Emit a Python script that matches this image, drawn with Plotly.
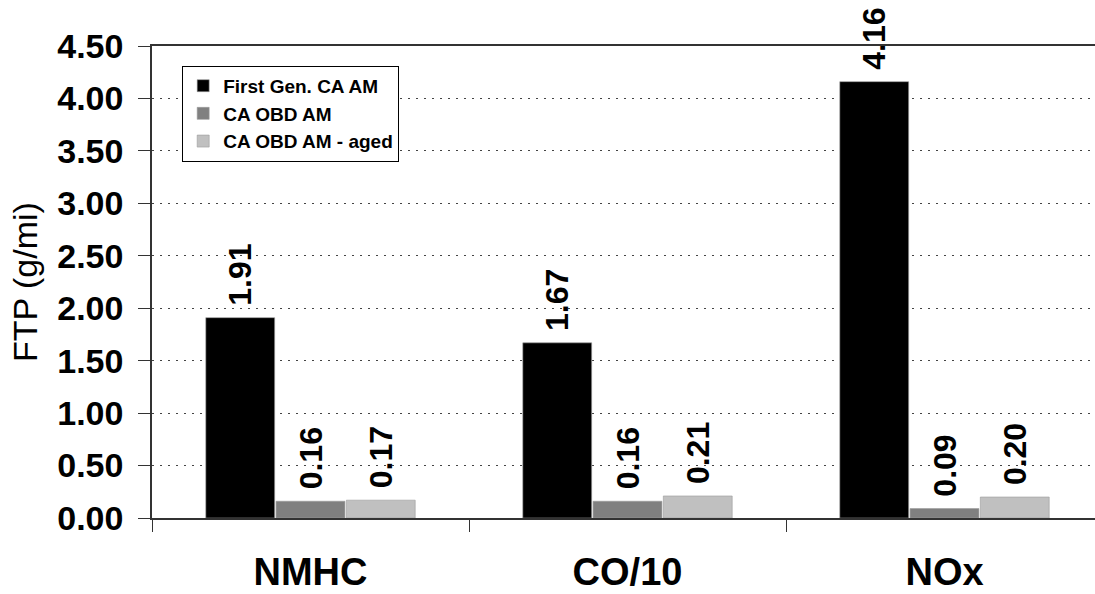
import plotly.graph_objects as go

categories = ["NMHC", "CO/10", "NOx"]
series_names = ["First Gen. CA AM", "CA OBD AM", "CA OBD AM - aged"]
first_gen = [1.91, 1.67, 4.16]
obd = [0.16, 0.16, 0.09]
obd_aged = [0.17, 0.21, 0.20]
colors = ["#000000", "#808080", "#c0c0c0"]
y_ticks = [0, 0.5, 1, 1.5, 2, 2.5, 3, 3.5, 4, 4.5]

FONT = "Liberation Sans, Arial, sans-serif"

fig = go.Figure()
for name, vals, col in zip(series_names, [first_gen, obd, obd_aged], colors):
    fig.add_trace(go.Bar(
        x=categories, y=vals, name=name,
        marker=dict(color=col, line=dict(color="#9a9a9a", width=0.6)),
        text=[f"\u00a0{v:.2f}" for v in vals],
        textposition="outside", textangle=-90,
        textfont=dict(family=FONT, size=32, color="black", weight="bold"),
        cliponaxis=False, constraintext="none",
    ))

fig.update_layout(
    width=1095, height=594,
    margin=dict(l=152, r=0, t=46, b=76),
    paper_bgcolor="white", plot_bgcolor="white",
    barmode="group", bargap=0.335, bargroupgap=0.02,
    font=dict(family=FONT, color="black"),
    showlegend=True,
    legend=dict(
        x=0.032, y=0.958, xanchor="left", yanchor="top",
        bgcolor="white", bordercolor="black", borderwidth=1,
        font=dict(family=FONT, size=19, color="black", weight="bold"),
        traceorder="normal", itemwidth=30, tracegroupgap=4,
    ),
    annotations=[dict(
        text="FTP (g/mi)", textangle=-90, showarrow=False,
        xref="paper", yref="paper", x=0, y=0.5, xshift=-127,
        xanchor="center", yanchor="middle",
        font=dict(family=FONT, size=34, color="black"),
    )],
)

fig.update_xaxes(
    range=[-0.5, -0.5 + 943 / 317],
    showline=True, linecolor="#333333", linewidth=1.5, mirror=True,
    ticks="outside", tickson="boundaries", ticklen=12, tickcolor="#333333",
    tickfont=dict(family=FONT, size=38, color="black", weight="bold"),
    ticklabelstandoff=20,
    showgrid=False,
)
fig.update_yaxes(
    range=[0, 4.5], tickvals=y_ticks, ticktext=[f"{v:.2f}" for v in y_ticks],
    showline=True, linecolor="#333333", linewidth=1.5, mirror=False,
    ticks="outside", ticklen=12, tickcolor="#333333",
    tickfont=dict(family=FONT, size=34, color="black", weight="bold"),
    ticklabelstandoff=8,
    showgrid=True, gridcolor="#444444", gridwidth=1.2, griddash="2px,6px",
    zeroline=False,
)

fig.write_html(
    "out.html",
    config={"displayModeBar": False},
    post_script="document.body.style.margin='0';document.body.style.overflow='hidden';",
)
